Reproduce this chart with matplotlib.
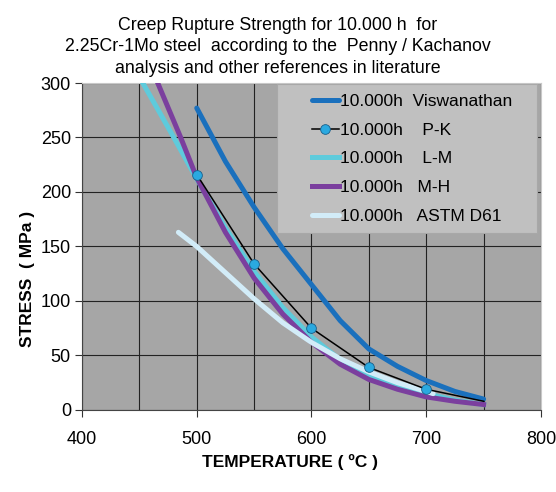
import matplotlib.pyplot as plt
from matplotlib.patches import Rectangle
from matplotlib.ticker import MultipleLocator

plt.rcParams['font.family'] = ['Liberation Sans', 'DejaVu Sans']

# curves (temperature in degC, stress in MPa)
visw_t = [500, 525, 550, 575, 600, 625, 650, 675, 700, 725, 750]
visw_s = [277, 228, 186, 148, 115, 82, 56, 40, 27, 17, 10]

pk_t = [500, 550, 600, 650, 700, 750]
pk_s = [216, 134, 75, 39, 19, 8]

lm_t = [453, 480, 500, 525, 550, 575, 600, 625, 650, 675, 700, 725, 750]
lm_s = [300, 250, 212, 167, 127, 94, 67, 46, 32, 22, 15, 9, 5]

mh_t = [466, 486, 500, 525, 550, 575, 600, 625, 650, 675, 700, 725, 750]
mh_s = [300, 250, 213, 163, 121, 88, 62, 42, 28, 19, 12, 8, 5]

astm_t = [484, 500, 525, 550, 575, 600, 625, 650, 675, 700, 706]
astm_s = [163, 150, 126, 102, 80, 62, 47, 35, 25, 17, 15]

labels = ["10.000h  Viswanathan", "10.000h    P-K", "10.000h    L-M",
          "10.000h   M-H", "10.000h   ASTM D61"]

fig = plt.figure(figsize=(5.56, 4.92), dpi=100)
ax = fig.add_axes([0.1475, 0.1667, 0.8255, 0.6646])
ax.set_facecolor('#a6a6a6')

ax.plot(visw_t, visw_s, color='#1a70bd', lw=3.6, solid_capstyle='round', label=labels[0], zorder=3)
ax.plot(pk_t, pk_s, color='black', lw=1.1, marker='o', markersize=7,
        markerfacecolor='#2aa9e0', markeredgecolor='#1a5f8a', markeredgewidth=0.6,
        markevery=[0, 1, 2, 3, 4], label=labels[1], zorder=4)
ax.plot(lm_t, lm_s, color='#5ecbdc', lw=3.6, label=labels[2], zorder=3)
ax.plot(mh_t, mh_s, color='#7b3f9e', lw=3.6, label=labels[3], zorder=3)
ax.plot(astm_t, astm_s, color='#d2ecf8', lw=3.6, solid_capstyle='round', label=labels[4], zorder=3)

ax.set_xlim(400, 800)
ax.set_ylim(0, 300)
ax.xaxis.set_major_locator(MultipleLocator(100))
ax.xaxis.set_minor_locator(MultipleLocator(50))
ax.yaxis.set_major_locator(MultipleLocator(50))
ax.grid(True, which='both', color='#222222', lw=0.8)
ax.set_axisbelow(True)
ax.tick_params(axis='both', which='major', direction='out', length=5, labelsize=13, color='#333333')
ax.tick_params(axis='x', which='minor', length=0)
ax.tick_params(axis='x', pad=10)
ax.tick_params(axis='y', pad=3)
for side in ['top', 'right']:
    ax.spines[side].set_color('#c8c8c8')
for side in ['left', 'bottom']:
    ax.spines[side].set_color('#444444')

ax.set_xlabel("TEMPERATURE ( ºC )", fontsize=12.5, fontweight='bold')
ax.xaxis.set_label_coords(0.453, -0.135)
ax.set_ylabel("STRESS  ( MPa )", fontsize=12.5, fontweight='bold')
ax.yaxis.set_label_coords(-0.103, 0.40)

fig.text(0.5, 0.905,
         "Creep Rupture Strength for 10.000 h  for\n"
         "2.25Cr-1Mo steel  according to the  Penny / Kachanov\n"
         "analysis and other references in literature",
         fontsize=12.8, linespacing=1.36, ha='center', va='center', multialignment='center')

# legend box drawn as a plain grey panel, entries placed on top of it
ax.add_patch(Rectangle((0.425, 0.542), 0.566, 0.455, transform=ax.transAxes,
                       facecolor='#c0c0c0', edgecolor='#a8a8a8', lw=0.8, zorder=5))
leg = ax.legend(loc='upper left', bbox_to_anchor=(0.501, 0.967), fontsize=12.5,
                frameon=False, borderpad=0, labelspacing=0.78, handlelength=1.55,
                handletextpad=0.08, borderaxespad=0)
leg.set_zorder(6)

fig.savefig('out.png', dpi=100)
